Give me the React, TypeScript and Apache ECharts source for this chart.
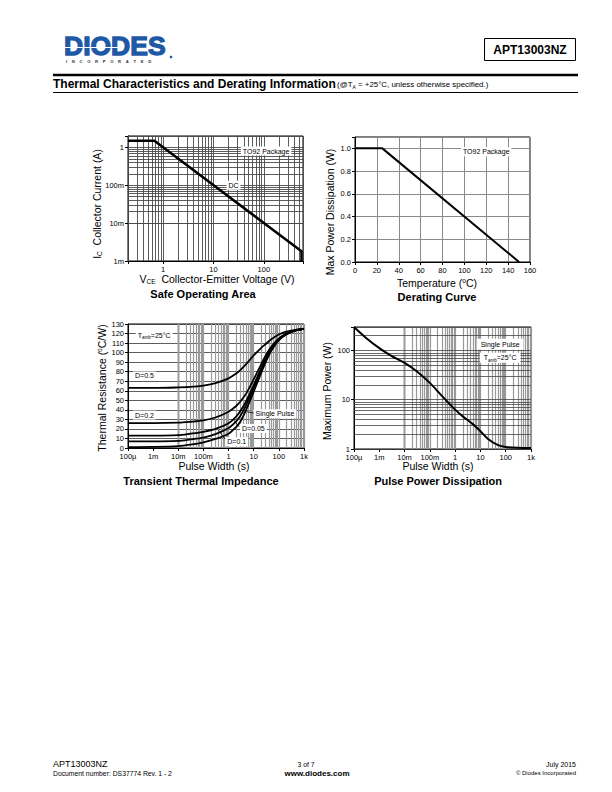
import React, { useEffect, useRef } from 'react';
import * as echarts from 'echarts';

// ---------- Safe Operating Area ----------
const SOA_VCE = [0.2, 0.67, 560, 560];
const SOA_IC = [1.5, 1.5, 0.0018, 0.001];
const SOA_X_LABELS: Record<string, string> = { '0': '1', '1': '10', '2': '100' };
const SOA_Y_LABELS: Record<string, string> = { '-3': '1m', '-2': '10m', '-1': '100m', '0': '1' };

// ---------- Derating Curve ----------
const DERATE_T = [0, 25, 150];
const DERATE_P = [1.0, 1.0, 0.0];

// ---------- Transient Thermal Impedance ----------
const TTI_T = [1e-4, 1e-3, 1e-2, 0.03, 0.1, 0.3, 1, 2, 3, 5, 10, 20, 30, 50, 100, 200, 500, 1000];
const TTI_D05 = [63, 63, 63.5, 64, 65.5, 68, 73, 78, 82, 88, 97, 105, 109, 114, 119, 122, 124, 125];
const TTI_D02 = [26, 26, 26.5, 27.5, 29, 32, 38, 44, 49, 57, 72, 88, 97, 106, 115, 120, 123.5, 125];
const TTI_D01 = [13, 13, 13.5, 15, 17, 20, 26, 33, 39, 49, 66, 84, 94, 104, 114, 119.5, 123.5, 125];
const TTI_D005 = [7, 7, 7.5, 9, 11, 14.5, 21, 28, 34, 45, 63, 82, 92, 103, 113.5, 119.5, 123.5, 125];
const TTI_SP = [1, 1.2, 2, 3.5, 6, 9.5, 15, 22, 28, 40, 59, 79, 90, 102, 113, 119, 123.5, 125];

// ---------- Pulse Power Dissipation ----------
const PPD_T = [1e-4, 3e-4, 1e-3, 3e-3, 1e-2, 3e-2, 0.1, 0.3, 1, 2, 5, 10, 20, 50, 100, 300, 1000];
const PPD_P = [300, 180, 112, 78, 56, 38, 22, 12, 6.3, 4.6, 3.2, 2.3, 1.6, 1.2, 1.1, 1.06, 1.05];

const PULSE_X_LABELS: Record<string, string> = {
  '-4': '100µ', '-3': '1m', '-2': '10m', '-1': '100m', '0': '1', '1': '10', '2': '100', '3': '1k',
};
const PPD_Y_LABELS: Record<string, string> = { '0': '1', '1': '10', '2': '100' };

const FONT = '"Liberation Sans", Arial, Helvetica, sans-serif';
const LOGO_BLUE = '#1f58a5';

function logLabel(map: Record<string, string>) {
  return (v: number) => {
    const l = Math.log10(v);
    const e = Math.round(l);
    if (Math.abs(l - e) > 1e-6) return '';
    return map[String(e)] ?? '';
  };
}

function logGrid(min: number, max: number) {
  const out: number[] = [];
  for (let e = Math.floor(Math.log10(min)) - 1; e <= Math.ceil(Math.log10(max)); e++) {
    for (let m = 1; m <= 9; m++) {
      const v = +(m * Math.pow(10, e)).toPrecision(6);
      if (v >= min * 0.999 && v <= max * 1.001) out.push(v);
    }
  }
  return out;
}

function zip(a: number[], b: number[]) {
  return a.map((x, i) => [x, b[i]]);
}

const labelStyle = { fontSize: 7.5, color: '#000', fontFamily: FONT };
const axisLineStyle = { show: true, lineStyle: { color: '#000', width: 1 } };
const tickStyle = { show: true, length: 3, inside: false, lineStyle: { color: '#000', width: 1 } };

function annot(coord: number[], text: string, extra: any = {}) {
  return {
    coord,
    symbol: 'circle',
    symbolSize: 1,
    itemStyle: { color: 'rgba(0,0,0,0)' },
    label: {
      show: true,
      position: 'inside',
      formatter: text,
      color: '#000',
      fontSize: 7,
      fontFamily: FONT,
      backgroundColor: '#fff',
      padding: [1, 2],
      ...extra,
    },
  };
}

const subRich = {
  a: { fontSize: 7, fontFamily: FONT, color: '#000', lineHeight: 10, verticalAlign: 'middle' },
  s: { fontSize: 4.5, fontFamily: FONT, color: '#000', lineHeight: 5, verticalAlign: 'bottom' },
};

function gridSeries(xi: number, pt: number[], vLines: number[], hLines: number[], vColor: string, hColor: string, vW: number, hW: number, points: any[] = [], leaders: any[] = []) {
  const list: any[] = [];
  list.push({
    type: 'line', xAxisIndex: xi, yAxisIndex: xi, data: [pt], symbol: 'none', silent: true, z: 1,
    lineStyle: { width: 0 },
    markLine: {
      silent: true, symbol: ['none', 'none'], label: { show: false }, animation: false,
      lineStyle: { color: vColor, width: vW, type: 'solid' },
      emphasis: { disabled: true },
      data: vLines.map((v) => ({ xAxis: v })),
    },
  });
  list.push({
    type: 'line', xAxisIndex: xi, yAxisIndex: xi, data: [pt], symbol: 'none', silent: true, z: 1,
    lineStyle: { width: 0 },
    markLine: {
      silent: true, symbol: ['none', 'none'], label: { show: false }, animation: false,
      lineStyle: { color: hColor, width: hW, type: 'solid' },
      emphasis: { disabled: true },
      data: hLines.map((v) => ({ yAxis: v })),
    },
  });
  list.push({
    type: 'line', xAxisIndex: xi, yAxisIndex: xi, data: [pt], symbol: 'none', silent: true, z: 10,
    lineStyle: { width: 0 },
    markLine: {
      silent: true, symbol: ['none', 'none'], label: { show: false }, animation: false,
      lineStyle: { color: '#000', width: 0.8, type: 'solid' },
      emphasis: { disabled: true },
      data: leaders,
    },
    markPoint: { silent: true, animation: false, data: points },
  });
  return list;
}

function curve(xi: number, xs: number[], ys: number[], width: number, smooth: boolean | number = false) {
  return {
    type: 'line', xAxisIndex: xi, yAxisIndex: xi, data: zip(xs, ys), symbol: 'none', silent: true, z: 5,
    smooth, lineStyle: { color: '#000', width },
  };
}

function text(x: number, y: number, t: string, size: number, opts: any = {}) {
  return {
    type: 'text', x, y, rotation: opts.rotation || 0, z: 100,
    style: {
      text: t,
      fill: opts.fill || '#000',
      font: `${opts.bold ? 'bold ' : ''}${size}px ${FONT}`,
      align: opts.align || 'left',
      verticalAlign: 'middle',
      textAlign: opts.align || 'left',
      textVerticalAlign: 'middle',
      lineHeight: opts.lineHeight,
      rich: opts.rich,
      stroke: opts.stroke,
      lineWidth: opts.lineWidth,
    },
  };
}

const axisRich = {
  a: { fontSize: 10.5, fontFamily: FONT, color: '#000', lineHeight: 11, verticalAlign: 'middle' },
  s: { fontSize: 6.5, fontFamily: FONT, color: '#000', lineHeight: 5, verticalAlign: 'bottom' },
};

const supRich = {
  a: { fontSize: 10.5, fontFamily: FONT, color: '#000', lineHeight: 13, verticalAlign: 'middle' },
  u: { fontSize: 6.5, fontFamily: FONT, color: '#000', lineHeight: 5, verticalAlign: 'top' },
};

const NB = '\u00a0';

export default function App() {
  const ref = useRef<HTMLDivElement>(null);
  useEffect(() => {
    if (!ref.current) return;
    const chart = echarts.init(ref.current, null, { renderer: 'svg', width: 612, height: 792 });

    const gridBase = { show: true, borderColor: '#000', borderWidth: 1, backgroundColor: 'rgba(0,0,0,0)' };

    const incorporated = 'INCORPORATED'.split('').join(NB.repeat(4));

    const option: any = {
      animation: false,
      backgroundColor: '#fff',
      textStyle: { fontFamily: FONT },
      grid: [
        { ...gridBase, left: 128, top: 136, width: 175, height: 125 },
        { ...gridBase, left: 355, top: 137, width: 175, height: 125 },
        { ...gridBase, left: 128, top: 324, width: 176, height: 124 },
        { ...gridBase, left: 354, top: 327, width: 177, height: 122 },
      ],
      xAxis: [
        { gridIndex: 0, type: 'log', logBase: 10, min: 0.2, max: 600, axisLine: axisLineStyle, axisTick: tickStyle,
          axisLabel: { ...labelStyle, margin: 4, formatter: logLabel(SOA_X_LABELS) }, splitLine: { show: false } },
        { gridIndex: 1, type: 'value', min: 0, max: 160, interval: 20, axisLine: axisLineStyle, axisTick: tickStyle,
          axisLabel: { ...labelStyle, margin: 4 }, splitLine: { show: true, lineStyle: { color: '#8a8a8a', width: 1 } } },
        { gridIndex: 2, type: 'log', logBase: 10, min: 1e-4, max: 1e3, axisLine: axisLineStyle, axisTick: tickStyle,
          axisLabel: { ...labelStyle, margin: 4, formatter: logLabel(PULSE_X_LABELS) }, splitLine: { show: false } },
        { gridIndex: 3, type: 'log', logBase: 10, min: 1e-4, max: 1e3, axisLine: axisLineStyle, axisTick: tickStyle,
          axisLabel: { ...labelStyle, margin: 4, formatter: logLabel(PULSE_X_LABELS) }, splitLine: { show: false } },
      ],
      yAxis: [
        { gridIndex: 0, type: 'log', logBase: 10, min: 0.001, max: 2, axisLine: axisLineStyle, axisTick: tickStyle,
          axisLabel: { ...labelStyle, margin: 4, formatter: logLabel(SOA_Y_LABELS) }, splitLine: { show: false } },
        { gridIndex: 1, type: 'value', min: 0, max: 1.1, interval: 0.2, axisLine: axisLineStyle, axisTick: tickStyle,
          axisLabel: { ...labelStyle, margin: 4, formatter: (v: number) => (v > 1.05 ? '' : v.toFixed(1)) },
          splitLine: { show: true, lineStyle: { color: '#8a8a8a', width: 1 } } },
        { gridIndex: 2, type: 'value', min: 0, max: 130, interval: 10, axisLine: axisLineStyle, axisTick: tickStyle,
          axisLabel: { ...labelStyle, margin: 4 }, splitLine: { show: true, lineStyle: { color: '#333', width: 0.8 } } },
        { gridIndex: 3, type: 'log', logBase: 10, min: 1, max: 300, axisLine: axisLineStyle, axisTick: tickStyle,
          axisLabel: { ...labelStyle, margin: 4, formatter: logLabel(PPD_Y_LABELS) }, splitLine: { show: false } },
      ],
      series: [
        ...gridSeries(0, [0.2, 0.001], logGrid(0.2, 600), logGrid(0.001, 2), '#4a4a4a', '#4a4a4a', 0.9, 0.9, [
          annot([111, 0.8], 'TO92 Package'),
          annot([25, 0.1], 'DC'),
        ]),
        curve(0, SOA_VCE, SOA_IC, 2.5),

        ...gridSeries(1, [0, 0], [], [], '#888', '#888', 1, 1, [
          annot([120, 0.97], 'TO92 Package'),
        ]),
        curve(1, DERATE_T, DERATE_P, 2),

        ...gridSeries(2, [1e-4, 0], logGrid(1e-4, 1e3), [], '#9a9a9a', '#333', 1.2, 0.8, [
          annot([1.1e-3, 118], '{a|T}{s|amb}{a|=25°C}', { rich: subRich, padding: [0, 2] }),
          annot([4.5e-4, 75.5], 'D=0.5'),
          annot([4.5e-4, 34.5], 'D=0.2'),
          annot([70, 36], 'Single Pulse'),
          annot([9.7, 20.5], 'D=0.05'),
          annot([2.1, 6.6], 'D=0.1'),
        ], [
          [{ coord: [11.3, 36.4] }, { coord: [5.3, 38] }],
          [{ coord: [2.6, 22.3] }, { coord: [1.6, 29.3] }],
          [{ coord: [0.72, 9.4] }, { coord: [0.39, 18.9] }],
        ]),
        curve(2, TTI_T, TTI_D05, 1.8, 0.3),
        curve(2, TTI_T, TTI_D02, 1.8, 0.3),
        curve(2, TTI_T, TTI_D01, 1.8, 0.3),
        curve(2, TTI_T, TTI_D005, 1.8, 0.3),
        curve(2, TTI_T, TTI_SP, 1.8, 0.3),

        ...gridSeries(3, [1e-4, 1], logGrid(1e-4, 1e3), logGrid(1, 300), '#9a9a9a', '#444', 1.2, 0.8, [
          annot([60, 134], 'Single Pulse', { padding: [2, 4, 2, 4] }),
          annot([60, 71], '{a|T}{s|amb}{a|=25°C}', { rich: subRich, padding: [0, 4] }),
        ]),
        curve(3, PPD_T, PPD_P, 2, 0.3),
      ],
      graphic: [
        // header logo
        text(64, 45.5, 'DIODES', 26.5, { bold: true, fill: LOGO_BLUE, stroke: LOGO_BLUE, lineWidth: 1.3, lineHeight: 20 }),
        { type: 'line', z: 101, shape: { x1: 64, y1: 47.5, x2: 122, y2: 47.5 }, style: { stroke: '#fff', lineWidth: 1.2 } },
        text(66, 61.5, incorporated, 4.2, { bold: true, fill: '#333', lineHeight: 4.5 }),
        { type: 'circle', z: 100, shape: { cx: 171, cy: 57, r: 1.3 }, style: { fill: LOGO_BLUE } },
        // part number box
        { type: 'rect', z: 99, shape: { x: 484.5, y: 38.5, width: 91, height: 22 }, style: { fill: '#fff', stroke: '#000', lineWidth: 1 } },
        text(530, 50, 'APT13003NZ', 12, { bold: true, align: 'center' }),
        // section title
        { type: 'line', z: 100, shape: { x1: 53, y1: 75, x2: 578, y2: 75 }, style: { stroke: '#000', lineWidth: 2.5 } },
        text(53, 83.5, 'Thermal Characteristics and Derating Information', 12, { bold: true }),
        text(337, 84.5, '{a|(@T}{s|A}{a| = +25°C, unless otherwise specified.)}', 7.9, {
          rich: {
            a: { fontSize: 7.9, fontFamily: FONT, color: '#000', lineHeight: 10, verticalAlign: 'middle' },
            s: { fontSize: 5, fontFamily: FONT, color: '#000', lineHeight: 5.5, verticalAlign: 'bottom' },
          },
        }),
        { type: 'line', z: 100, shape: { x1: 53, y1: 92.5, x2: 578, y2: 92.5 }, style: { stroke: '#000', lineWidth: 1 } },

        // chart 1 titles
        text(97, 204, '{a|I}{s|C}{a|  Collector Current (A)}', 10.5, { rich: axisRich, align: 'center', rotation: Math.PI / 2 }),
        text(217, 279, '{a|V}{s|CE}{a|  Collector-Emitter Voltage (V)}', 10.5, { rich: axisRich, align: 'center' }),
        text(203, 293.5, 'Safe Operating Area', 11, { bold: true, align: 'center', lineHeight: 12 }),

        // chart 2 titles
        text(330, 212, 'Max Power Dissipation (W)', 10.5, { align: 'center', rotation: Math.PI / 2 }),
        text(437, 283, '{a|Temperature (}{u|o}{a|C)}', 10.5, { rich: supRich, align: 'center' }),
        text(437, 297, 'Derating Curve', 11, { bold: true, align: 'center', lineHeight: 12 }),

        // chart 3 titles
        text(102, 388, '{a|Thermal Resistance (}{u|o}{a|C/W)}', 10.5, { rich: supRich, align: 'center', rotation: Math.PI / 2 }),
        text(214, 466, 'Pulse Width (s)', 10.5, { align: 'center', lineHeight: 11 }),
        text(201, 481, 'Transient Thermal Impedance', 11, { bold: true, align: 'center', lineHeight: 12 }),

        // chart 4 titles
        text(327, 391, 'Maximum Power (W)', 10.5, { align: 'center', rotation: Math.PI / 2 }),
        text(438, 466, 'Pulse Width (s)', 10.5, { align: 'center', lineHeight: 11 }),
        text(438, 481, 'Pulse Power Dissipation', 11, { bold: true, align: 'center', lineHeight: 12 }),

        // footer
        text(53, 764, 'APT13003NZ', 9, { lineHeight: 9 }),
        text(53, 773.5, 'Document number: DS37774 Rev. 1 - 2', 6.8, { lineHeight: 7 }),
        text(306, 764, '3 of 7', 6.8, { align: 'center', lineHeight: 7 }),
        text(317, 773, 'www.diodes.com', 8, { bold: true, align: 'center', lineHeight: 8 }),
        text(576, 764, 'July 2015', 7, { align: 'right', lineHeight: 7 }),
        text(576, 773, '© Diodes Incorporated', 6, { align: 'right', lineHeight: 6 }),
      ],
    };

    chart.setOption(option);
    return () => chart.dispose();
  }, []);

  return <div ref={ref} style={{ position: 'absolute', left: 0, top: 0, width: 612, height: 792 }} />;
}
